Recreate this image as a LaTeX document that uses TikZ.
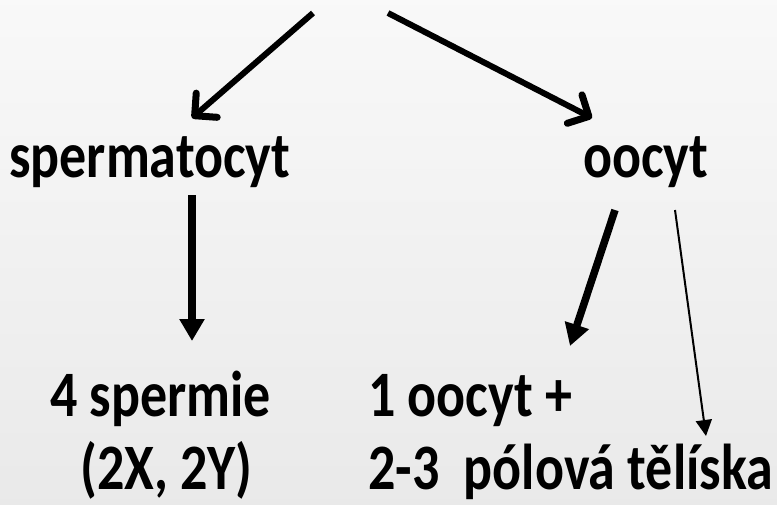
\documentclass[tikz,border=0pt]{standalone}
\usepackage{fontspec}
\setmainfont{Carlito}
\usetikzlibrary{arrows.meta,calc,positioning}
\newcommand\tallText[1]{\scalebox{1}[1.2]{#1}}

\begin{document}
\begin{tikzpicture}[x=1pt,y=-1pt,
  lbl/.style={anchor=base west,inner sep=0pt,font=\fontsize{54}{60}\selectfont\bfseries},
  barb/.style={-{Straight Barb[length=16pt,width=32pt,line width=7pt,round]},line width=6pt},
  heavy/.style={-{Triangle[length=22pt,width=24pt]},line width=7.5pt},
  slim/.style={-{Triangle[length=16pt,width=16pt]},line width=2pt}]
\shade[top color=gray!5,bottom color=gray!17] (0,0) rectangle (777,504);
\node[lbl] (sperm) at (9,177) {\tallText{spermatocyt}};
\node[lbl] (oocyt) at (583,177) {\tallText{oocyt}};
\node[lbl] (spermie) at (50,416) {\tallText{4 spermie}};
\node[lbl] (xy) at (80,489) {\tallText{(2X, 2Y)}};
\node[lbl] (ovum) at (368,416) {\tallText{1 oocyt +}};
\node[lbl] (polar) at (368,489) {\tallText{2-3\ \ pólová tělíska}};
\coordinate (topl) at (313,13);
\coordinate (topr) at (388,13);
\coordinate (sl) at (192,118);
\coordinate (or) at (592,118);
\coordinate (sa) at (192,195);
\coordinate (sb) at (192,341);
\coordinate (oa) at (615,210);
\coordinate (ob) at (570,346);
\coordinate (pa) at (675,210);
\coordinate (pb) at (706,436);
\draw[barb] (topl) -- (sl);
\draw[barb] (topr) -- (or);
\draw[heavy] (sa) -- (sb);
\draw[heavy] (oa) -- (ob);
\draw[slim] (pa) -- (pb);
\end{tikzpicture}
\end{document}
